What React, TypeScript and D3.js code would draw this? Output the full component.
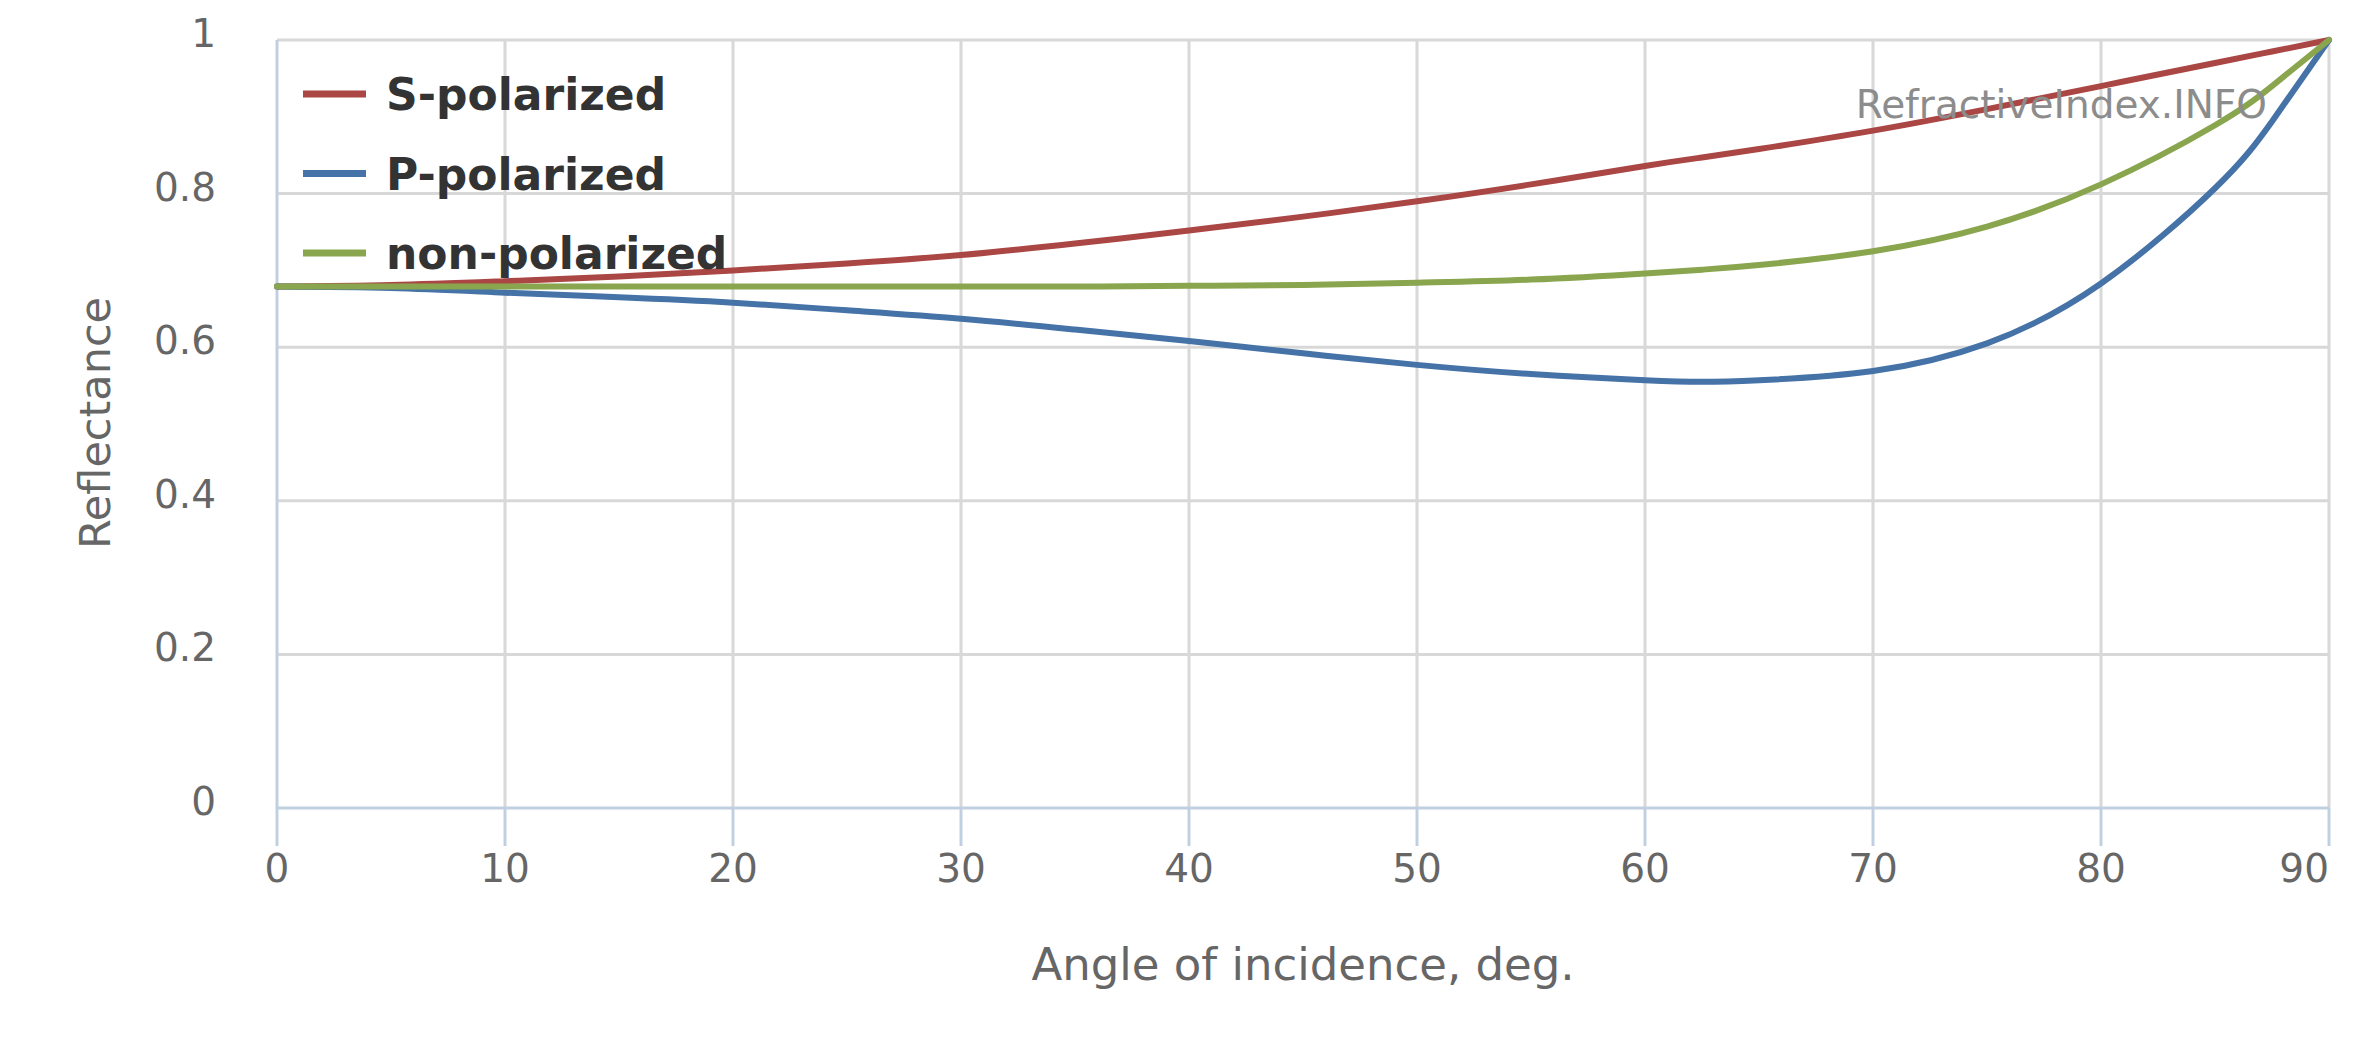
import React from "react";
import * as d3 from "d3";

// Angle of incidence (deg.)
const angles = [0, 5, 10, 15, 20, 25, 30, 35, 40, 45, 50, 55, 60, 62.5, 65, 70, 75, 80, 85, 87.5, 90];
// Reflectance for each polarization
const sPolarized = [0.679, 0.681, 0.686, 0.692, 0.7, 0.709, 0.72, 0.735, 0.752, 0.77, 0.79, 0.812, 0.836, 0.847, 0.858, 0.882, 0.91, 0.94, 0.97, 0.985, 1.0];
const pPolarized = [0.679, 0.677, 0.671, 0.665, 0.658, 0.648, 0.637, 0.623, 0.608, 0.592, 0.577, 0.565, 0.557, 0.555, 0.557, 0.569, 0.605, 0.683, 0.807, 0.894, 1.0];
const nonPolarized = [0.679, 0.679, 0.679, 0.679, 0.679, 0.679, 0.679, 0.679, 0.68, 0.681, 0.684, 0.688, 0.696, 0.701, 0.707, 0.725, 0.757, 0.812, 0.889, 0.94, 1.0];

const seriesNames = ["S-polarized", "P-polarized", "non-polarized"];
const seriesColors = ["#AA4643", "#4572A7", "#89A54E"];
const seriesValues = [sPolarized, pPolarized, nonPolarized];

const xTicks = [0, 10, 20, 30, 40, 50, 60, 70, 80, 90];
const yTicks = [0, 0.2, 0.4, 0.6, 0.8, 1];

const W = 2362;
const H = 1048;
const FONT = "'DejaVu Sans', Verdana, sans-serif";

export default function App() {
  const x = d3.scaleLinear().domain([0, 90]).range([277, 2329]);
  const y = d3.scaleLinear().domain([0, 1]).range([808, 40]);
  const [x0, x1] = x.range();
  const [y0, y1] = y.range();

  const line = d3
    .line<[number, number]>()
    .x((d) => x(d[0]))
    .y((d) => y(d[1]))
    .curve(d3.curveNatural);

  const fmt = (v: number) => (v === 0 || v === 1 ? String(v) : String(+v.toFixed(1)));

  return (
    <svg
      width={W}
      height={H}
      viewBox={`0 0 ${W} ${H}`}
      style={{ position: "absolute", left: 0, top: 0, display: "block", background: "#fff" }}
    >
      {/* grid */}
      <g stroke="#D8D8D8" strokeWidth={3}>
        {yTicks
          .filter((t) => t !== 0)
          .map((t) => (
            <line key={"gy" + t} x1={x0} x2={x1} y1={y(t)} y2={y(t)} />
          ))}
        {xTicks
          .filter((t) => t !== 0)
          .map((t) => (
            <line key={"gx" + t} x1={x(t)} x2={x(t)} y1={y1} y2={y0} />
          ))}
      </g>

      {/* axes */}
      <g stroke="#C0D0E0" strokeWidth={3}>
        <line x1={x0} x2={x0} y1={y1} y2={y0} />
        <line x1={x0} x2={x1} y1={y0} y2={y0} />
        {xTicks.map((t) => (
          <line key={"tk" + t} x1={x(t)} x2={x(t)} y1={y0} y2={y0 + 38} />
        ))}
      </g>

      {/* y tick labels */}
      <g fill="#666" fontFamily={FONT} fontSize={39} textAnchor="end">
        {yTicks.map((t) => (
          <text key={"yl" + t} x={216} y={y(t) + 7}>
            {fmt(t)}
          </text>
        ))}
      </g>

      {/* x tick labels */}
      <g fill="#666" fontFamily={FONT} fontSize={39}>
        {xTicks.map((t) => (
          <text
            key={"xl" + t}
            x={x(t)}
            y={882}
            textAnchor={t === 90 ? "end" : "middle"}
          >
            {t}
          </text>
        ))}
      </g>

      {/* axis titles */}
      <text
        x={1303}
        y={980}
        textAnchor="middle"
        fill="#666"
        fontFamily={FONT}
        fontSize={45}
      >
        Angle of incidence, deg.
      </text>
      <text
        transform={`translate(110, 423) rotate(-90)`}
        textAnchor="middle"
        fill="#666"
        fontFamily={FONT}
        fontSize={43}
      >
        Reflectance
      </text>

      {/* series */}
      <g fill="none" strokeWidth={6} strokeLinejoin="round" strokeLinecap="round">
        {seriesValues.map((vals, i) => (
          <path
            key={seriesNames[i]}
            d={line(angles.map((a, j) => [a, vals[j]] as [number, number])) || ""}
            stroke={seriesColors[i]}
          />
        ))}
      </g>

      {/* credit */}
      <text
        x={2267}
        y={118}
        textAnchor="end"
        fill="#8c8c8c"
        fontFamily={FONT}
        fontSize={39}
      >
        RefractiveIndex.INFO
      </text>

      {/* legend */}
      <g fontFamily={FONT} fontSize={44} fontWeight="bold" fill="#333">
        {seriesNames.map((name, i) => {
          const cy = 94 + i * 79.5;
          return (
            <g key={"lg" + name}>
              <line x1={303} x2={366} y1={cy} y2={cy} stroke={seriesColors[i]} strokeWidth={7} />
              <text x={386} y={cy + 16}>
                {name}
              </text>
            </g>
          );
        })}
      </g>
    </svg>
  );
}
